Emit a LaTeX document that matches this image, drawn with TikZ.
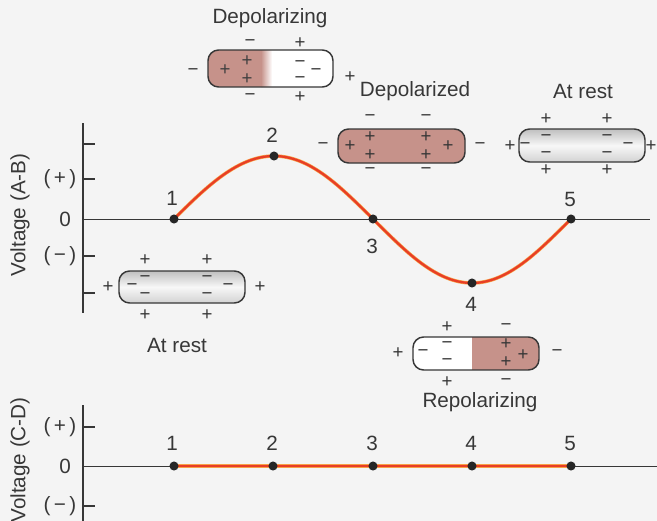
\documentclass[tikz,border=0pt]{standalone}
\usepackage{fontspec}
\setmainfont{Liberation Sans}
\usetikzlibrary{positioning}

\definecolor{inkgray}{RGB}{55,55,55}
\definecolor{pagebg}{RGB}{244,244,244}
\definecolor{cellpink}{RGB}{198,146,138}
\definecolor{tracered}{RGB}{232,62,38}
\definecolor{traceglow}{RGB}{247,160,70}

\tikzset{
  cellwall/.style={draw=inkgray, line width=1.1pt, rounded corners=8pt},
  restfill/.style={top color=gray!50, bottom color=gray!35, middle color=gray!6},
  ion/.style={font=\fontsize{14}{14}\selectfont, text=inkgray, inner sep=0pt},
  celltitle/.style={font=\fontsize{15.5}{18}\selectfont, text=inkgray},
  ptnum/.style={font=\fontsize{15.5}{18}\selectfont, text=inkgray},
  axislabel/.style={font=\fontsize{15.5}{18}\selectfont, text=inkgray},
  axisline/.style={draw=inkgray, line width=1.1pt},
  zeroline/.style={draw=inkgray, line width=0.7pt},
  ptdot/.style={circle, fill=black!85, inner sep=0pt, minimum size=6.8pt},
  trace/.style={draw=tracered, line width=1.7pt, preaction={draw=traceglow, line width=2.6pt}},
}

\begin{document}
\begin{tikzpicture}[x=0.75pt, y=-0.75pt]
  \useasboundingbox (0,0) rectangle (657,521);
  \fill[pagebg] (0,0) rectangle (657,521);

  % ---- upper trace: voltage between A and B
  \draw[axisline] (83,123) -- (83,313);
  \foreach \ty in {144,179,256,293}
    \draw[axisline] (83,\ty) -- (95,\ty);
  \draw[zeroline] (83,219) -- (650,219);
  \node[axislabel, rotate=90] (vab) at (20,215) {Voltage (A-B)};
  \node[axislabel] (abpos) at (60,179) {(\,+\,)};
  \node[axislabel] (abzero) at (65,219) {0};
  \node[axislabel] (abneg) at (60,256) {(\,−\,)};

  \coordinate (a1) at (174,219);
  \coordinate (a2) at (274,156);
  \coordinate (a3) at (373,219);
  \coordinate (a4) at (472,283);
  \coordinate (a5) at (571,219);
  \draw[trace] (a1) .. controls +(32.6,-32.3) and +(-36.2,0) .. (a2)
                    .. controls +(36.2,0) and +(-32.6,-32.3) .. (a3)
                    .. controls +(32.6,32.3) and +(-36.2,0) .. (a4)
                    .. controls +(36.2,0) and +(-32.6,32.3) .. (a5);
  \foreach \i in {1,...,5}
    \node[ptdot] (adot\i) at (a\i) {};
  \node[ptnum] (anum1) at (172,198) {1};
  \node[ptnum] (anum2) at (272,135) {2};
  \node[ptnum] (anum3) at (372,246) {3};
  \node[ptnum] (anum4) at (471,304) {4};
  \node[ptnum] (anum5) at (570,199) {5};

  % ---- lower trace: voltage between C and D
  \draw[axisline] (83,405) -- (83,521);
  \foreach \ty in {427,506}
    \draw[axisline] (83,\ty) -- (95,\ty);
  \draw[zeroline] (83,466) -- (657,466);
  \node[axislabel, rotate=90] (vcd) at (20,460) {Voltage (C-D)};
  \node[axislabel] (cdpos) at (60,427) {(\,+\,)};
  \node[axislabel] (cdzero) at (65,466) {0};
  \node[axislabel] (cdneg) at (60,506) {(\,−\,)};

  \coordinate (b1) at (174,466);
  \coordinate (b2) at (273,466);
  \coordinate (b3) at (373,466);
  \coordinate (b4) at (472,466);
  \coordinate (b5) at (571,466);
  \draw[trace] (b1) -- (b2) -- (b3) -- (b4) -- (b5);
  \foreach \i in {1,...,5}
    \node[ptdot] (bdot\i) at (b\i) {};
  \node[ptnum] (bnum1) at (172,443) {1};
  \node[ptnum] (bnum2) at (272,443) {2};
  \node[ptnum] (bnum3) at (372,443) {3};
  \node[ptnum] (bnum4) at (471,443) {4};
  \node[ptnum] (bnum5) at (570,443) {5};

  % ---- depolarizing cell
  \begin{scope}
    \clip[rounded corners=8pt] (208,50) rectangle (333,87);
    \fill[white] (208,50) rectangle (333,87);
    \fill[cellpink] (208,50) rectangle (261,87);
    \shade[left color=cellpink, right color=white] (261,50) rectangle (272,87);
  \end{scope}
  \draw[cellwall] (208,50) rectangle (333,87);
  \node[celltitle] (dztitle) at (270,18) {Depolarizing};
  \node[ion] (dzt1) at (250,43) {−};
  \node[ion] (dzt2) at (300,43) {+};
  \node[ion] (dzb1) at (250,97) {−};
  \node[ion] (dzb2) at (300,97) {+};
  \node[ion] (dzl) at (193,72) {−};
  \node[ion] (dzr) at (350,77) {+};
  \node[ion, text=black!75] (dzi1) at (225,70) {+};
  \node[ion, text=black!75] (dzi2) at (247,61) {+};
  \node[ion, text=black!75] (dzi3) at (247,79) {+};
  \node[ion] (dzi4) at (300,64) {−};
  \node[ion] (dzi5) at (300,80) {−};
  \node[ion] (dzi6) at (316,72) {−};

  % ---- depolarized cell
  \draw[cellwall, fill=cellpink] (338,129) rectangle (465,163);
  \node[celltitle] (ddtitle) at (415,91) {Depolarized};
  \node[ion] (ddt1) at (370,118) {−};
  \node[ion] (ddt2) at (426,118) {−};
  \node[ion] (ddb1) at (370,171) {−};
  \node[ion] (ddb2) at (426,171) {−};
  \node[ion] (ddl) at (323,146) {−};
  \node[ion] (ddr) at (480,146) {−};
  \node[ion] (ddi1) at (350,146) {+};
  \node[ion] (ddi2) at (370,137) {+};
  \node[ion] (ddi3) at (370,155) {+};
  \node[ion] (ddi4) at (426,137) {+};
  \node[ion] (ddi5) at (426,155) {+};
  \node[ion] (ddi6) at (448,146) {+};

  % ---- resting cell, upper right
  \draw[cellwall, restfill] (519,129) rectangle (645,162);
  \node[celltitle] (rttitle) at (583,91) {At rest};
  \node[ion] (rtt1) at (546,119) {+};
  \node[ion] (rtt2) at (607,119) {+};
  \node[ion] (rtb1) at (546,170) {+};
  \node[ion] (rtb2) at (607,170) {+};
  \node[ion] (rtl) at (510,146) {+};
  \node[ion] (rtr) at (651,146) {+};
  \node[ion] (rti1) at (525,146) {−};
  \node[ion] (rti2) at (546,138) {−};
  \node[ion] (rti3) at (546,155) {−};
  \node[ion] (rti4) at (607,138) {−};
  \node[ion] (rti5) at (607,155) {−};
  \node[ion] (rti6) at (628,146) {−};

  % ---- resting cell, lower left
  \draw[cellwall, restfill] (119,271) rectangle (245,303);
  \node[celltitle] (rltitle) at (177,345) {At rest};
  \node[ion] (rlt1) at (145,260) {+};
  \node[ion] (rlt2) at (207,260) {+};
  \node[ion] (rlb1) at (145,315) {+};
  \node[ion] (rlb2) at (207,315) {+};
  \node[ion] (rll) at (108,287) {+};
  \node[ion] (rlr) at (260,287) {+};
  \node[ion] (rli1) at (132,287) {−};
  \node[ion] (rli2) at (145,279) {−};
  \node[ion] (rli3) at (145,296) {−};
  \node[ion] (rli4) at (207,279) {−};
  \node[ion] (rli5) at (207,296) {−};
  \node[ion] (rli6) at (228,287) {−};

  % ---- repolarizing cell
  \begin{scope}
    \clip[rounded corners=8pt] (413,337) rectangle (539,370);
    \fill[white] (413,337) rectangle (539,370);
    \fill[cellpink] (472,337) rectangle (539,370);
  \end{scope}
  \draw[cellwall] (413,337) rectangle (539,370);
  \node[celltitle] (rptitle) at (480,402) {Repolarizing};
  \node[ion] (rpt1) at (447,327) {+};
  \node[ion] (rpt2) at (506,327) {−};
  \node[ion] (rpb1) at (447,382) {+};
  \node[ion] (rpb2) at (506,382) {−};
  \node[ion] (rpl) at (398,353) {+};
  \node[ion] (rpr) at (557,353) {−};
  \node[ion] (rpi1) at (423,353) {−};
  \node[ion] (rpi2) at (447,345) {−};
  \node[ion] (rpi3) at (447,362) {−};
  \node[ion] (rpi4) at (506,344) {+};
  \node[ion] (rpi5) at (506,362) {+};
  \node[ion] (rpi6) at (523,355) {+};
\end{tikzpicture}
\end{document}
